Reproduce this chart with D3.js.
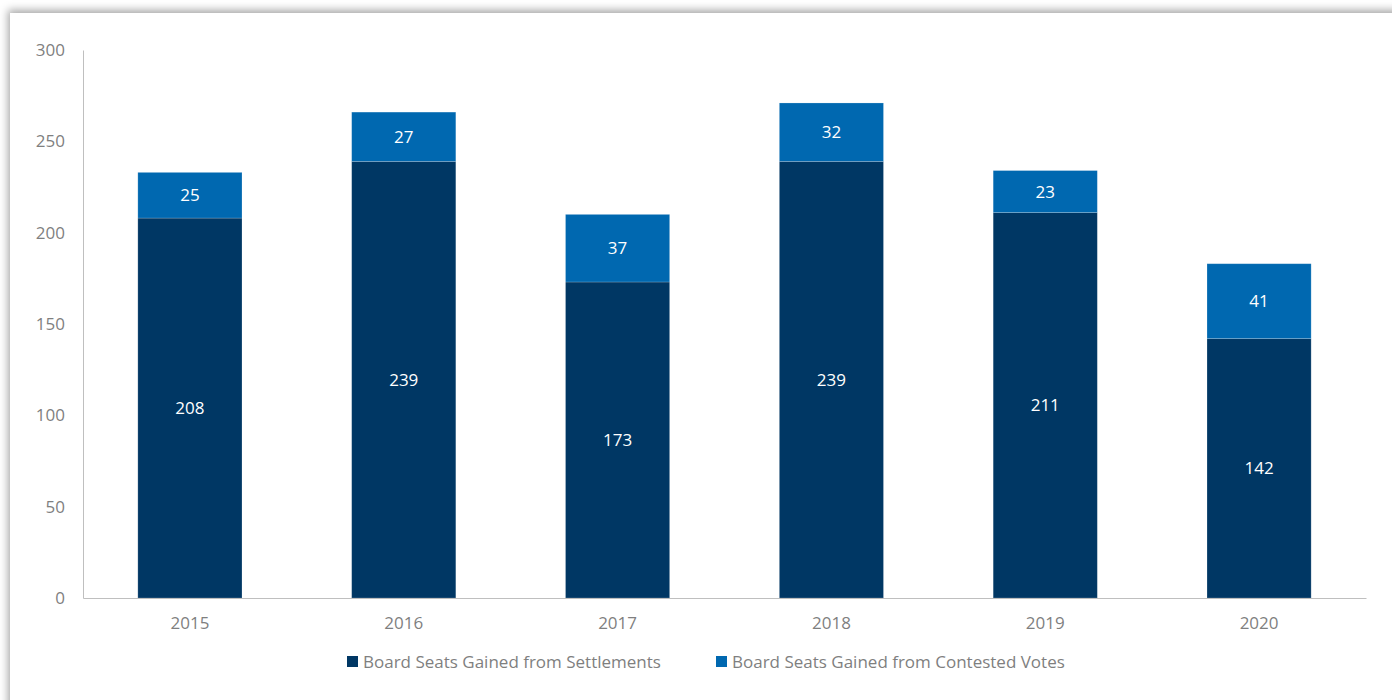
<!DOCTYPE html>
<html>
<head>
<meta charset="utf-8">
<script src="https://cdn.jsdelivr.net/npm/d3@7"></script>
<style>
  html, body { margin: 0; padding: 0; background: #fff; }
  svg { display: block; }
</style>
</head>
<body>
<div id="chart"></div>
<script>
const years = ['2015', '2016', '2017', '2018', '2019', '2020'];
const settlements = [208, 239, 173, 239, 211, 142];
const contested = [25, 27, 37, 32, 23, 41];
const seriesNames = ['Board Seats Gained from Settlements', 'Board Seats Gained from Contested Votes'];
const seriesColors = ['#003764', '#0068b0'];
const yTicks = [0, 50, 100, 150, 200, 250, 300];

const width = 1392, height = 700;
const margin = { left: 83, right: 26, top: 50, bottom: 102 };
const font = '"Open Sans", sans-serif';
const fontSize = '17px';

const svg = d3.select('#chart').append('svg')
    .attr('width', width)
    .attr('height', height);

// Panel with shadow toward top-left
const defs = svg.append('defs');
const f = defs.append('filter').attr('id', 'shadow')
    .attr('x', '-5%').attr('y', '-5%').attr('width', '110%').attr('height', '110%');
f.append('feDropShadow')
    .attr('dx', -2).attr('dy', -3)
    .attr('stdDeviation', 4)
    .attr('flood-color', '#000')
    .attr('flood-opacity', 0.35);

svg.append('rect').attr('width', width).attr('height', height).attr('fill', '#fff');
svg.append('rect')
    .attr('x', 10).attr('y', 13)
    .attr('width', width + 40).attr('height', height + 40)
    .attr('fill', '#fff')
    .attr('filter', 'url(#shadow)');

const x = d3.scaleBand()
    .domain(years)
    .range([margin.left, width - margin.right])
    .paddingInner(0.513)
    .paddingOuter(0.2565);

const y = d3.scaleLinear()
    .domain([0, 300])
    .range([height - margin.bottom, margin.top]);

// Y axis
const yAxis = svg.append('g')
    .attr('transform', `translate(${margin.left},0)`)
    .call(d3.axisLeft(y).tickValues(yTicks).tickSize(0).tickPadding(18));
yAxis.select('.domain').attr('stroke', '#bfbfbf');
yAxis.selectAll('text')
    .attr('fill', '#7f7f7f')
    .style('font-family', font)
    .style('font-size', fontSize);

// Stacked bars
const rows = years.map((yr, i) => ({ year: yr, s: settlements[i], c: contested[i] }));
const stack = d3.stack().keys(['s', 'c'])(rows);

const layers = svg.append('g').selectAll('g')
    .data(stack)
    .join('g')
    .attr('fill', (d, i) => seriesColors[i]);

layers.selectAll('rect')
    .data(d => d)
    .join('rect')
    .attr('x', d => x(d.data.year))
    .attr('width', x.bandwidth())
    .attr('y', d => y(d[1]))
    .attr('height', d => y(d[0]) - y(d[1]))
    .attr('stroke', '#ffffff')
    .attr('stroke-opacity', 0.25)
    .attr('stroke-width', 0.75);

layers.selectAll('text')
    .data(d => d)
    .join('text')
    .attr('x', d => x(d.data.year) + x.bandwidth() / 2)
    .attr('y', d => y((d[0] + d[1]) / 2))
    .attr('dy', '0.35em')
    .attr('text-anchor', 'middle')
    .attr('fill', '#fff')
    .style('font-family', font)
    .style('font-size', fontSize)
    .text(d => d[1] - d[0]);

// X axis
const xAxis = svg.append('g')
    .attr('transform', `translate(0,${y(0)})`)
    .call(d3.axisBottom(x).tickSize(0).tickPadding(19));
xAxis.select('.domain').attr('stroke', '#bfbfbf');
xAxis.selectAll('text')
    .attr('fill', '#7f7f7f')
    .style('font-family', font)
    .style('font-size', fontSize);

// Legend
const legendX = [347, 716];
const legend = svg.append('g').selectAll('g')
    .data(seriesNames)
    .join('g')
    .attr('transform', (d, i) => `translate(${legendX[i]},656)`);
legend.append('rect')
    .attr('width', 11).attr('height', 11)
    .attr('fill', (d, i) => seriesColors[i]);
legend.append('text')
    .attr('x', 16).attr('y', 6)
    .attr('dy', '0.35em')
    .attr('fill', '#7f7f7f')
    .style('font-family', font)
    .style('font-size', fontSize)
    .text(d => d);
</script>
</body>
</html>
